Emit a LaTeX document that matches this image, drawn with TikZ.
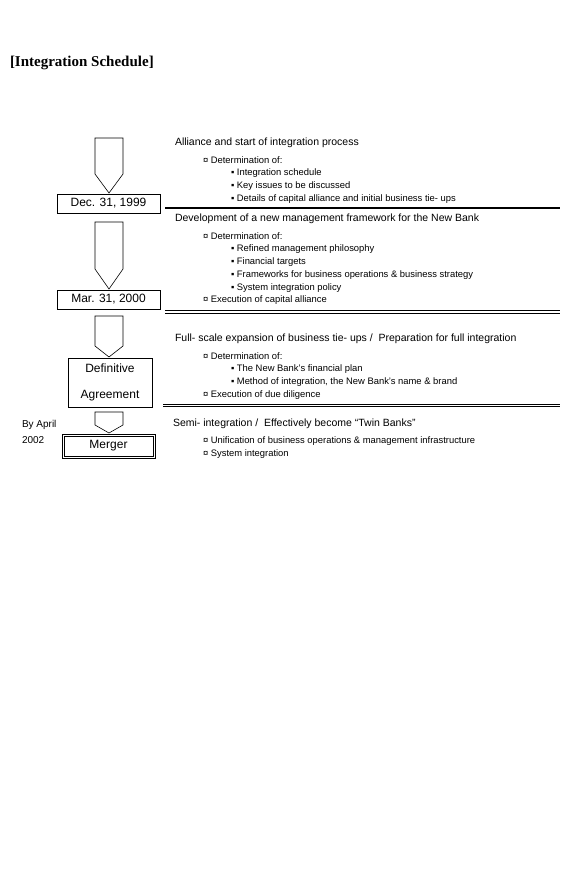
\documentclass[tikz,border=0pt]{standalone}
\usepackage{fontspec}
\setmainfont{Liberation Sans}
\newfontfamily\titlefont{Liberation Serif}
\usetikzlibrary{positioning}
\begin{document}
\begin{tikzpicture}
        [x=1pt,y=-1pt,every node/.style={inner sep=0pt,outer sep=0pt},
         hdr/.style={anchor=west,font=\fontsize{10.5}{12}\selectfont},
         itm/.style={anchor=west,font=\fontsize{9.4}{11}\selectfont},
         datebox/.style={draw,line width=0.6pt,font=\fontsize{12}{14}\selectfont},
         blockarr/.style={draw,line width=0.6pt}]
        \useasboundingbox (0,0) rectangle (586,877);
        %Title
        \node[anchor=west,font=\titlefont\bfseries\fontsize{15}{18}\selectfont] (Title) at (10,63) {[Integration Schedule]};

        %Left side
        \node[datebox,minimum width=103pt,minimum height=19pt] (Dec) at (108.5,203.5) {Dec. 31, 1999};
        \node[datebox,minimum width=103pt,minimum height=19pt] (Mar) at (108.5,299.5) {Mar. 31, 2000};
        \node[datebox,minimum width=84pt,minimum height=49pt,align=center] (Def) at (110,382.5)
                {Definitive\\[12pt]Agreement};
        \node[datebox,minimum width=89pt,minimum height=20pt] (Merger) at (108.5,446) {Merger};
        \draw[line width=0.6pt] ([shift={(-2,-2)}]Merger.north west) rectangle ([shift={(2,2)}]Merger.south east);
        \node[anchor=west,align=left,font=\fontsize{10}{16}\selectfont] (ByApril) at (22,432) {By April\\2002};

        \draw[blockarr] (95,138) -- (123,138) -- (123,174) -- (109,193) -- (95,174) -- cycle;
        \draw[blockarr] (95,222) -- (123,222) -- (123,269) -- (109,289) -- (95,269) -- cycle;
        \draw[blockarr] (95,316) -- (123,316) -- (123,346) -- (109,357) -- (95,346) -- cycle;
        \draw[blockarr] (95,412) -- (123,412) -- (123,425) -- (109,433) -- (95,425) -- cycle;

        %Right side
        \node[hdr] (H1) at (175,143) {Alliance and start of integration process};
        \node[itm] (D1) at (203,160) {¤ Determination of:};
        \node[itm] (D1a) at (231,173) {▪ Integration schedule};
        \node[itm] (D1b) at (231,186) {▪ Key issues to be discussed};
        \node[itm] (D1c) at (231,199) {▪ Details of capital alliance and initial business tie- ups};
        \draw[line width=2pt] (165,208.5) -- (560,208.5);

        \node[hdr] (H2) at (175,219) {Development of a new management framework for the New Bank};
        \node[itm] (D2) at (203,236) {¤ Determination of:};
        \node[itm] (D2a) at (231,249) {▪ Refined management philosophy};
        \node[itm] (D2b) at (231,262) {▪ Financial targets};
        \node[itm] (D2c) at (231,275) {▪ Frameworks for business operations \& business strategy};
        \node[itm] (D2d) at (231,288) {▪ System integration policy};
        \node[itm] (E2) at (203,300) {¤ Execution of capital alliance};
        \draw[line width=0.9pt] (165,310.5) -- (560,310.5);
        \draw[line width=0.9pt] (165,313.2) -- (560,313.2);

        \node[hdr] (H3) at (175,339) {Full- scale expansion of business tie- ups /\ \ Preparation for full integration};
        \node[itm] (D3) at (203,356) {¤ Determination of:};
        \node[itm] (D3a) at (231,369) {▪ The New Bank's financial plan};
        \node[itm] (D3b) at (231,382) {▪ Method of integration, the New Bank's name \& brand};
        \node[itm] (E3) at (203,395) {¤ Execution of due diligence};
        \draw[line width=0.8pt] (163,404) -- (560,404);
        \draw[line width=0.8pt] (163,406.5) -- (560,406.5);

        \node[hdr] (H4) at (173,424) {Semi- integration /\ \ Effectively become “Twin Banks”};
        \node[itm] (E4a) at (203,441) {¤ Unification of business operations \& management infrastructure};
        \node[itm] (E4b) at (203,454) {¤ System integration};
\end{tikzpicture}
\end{document}
